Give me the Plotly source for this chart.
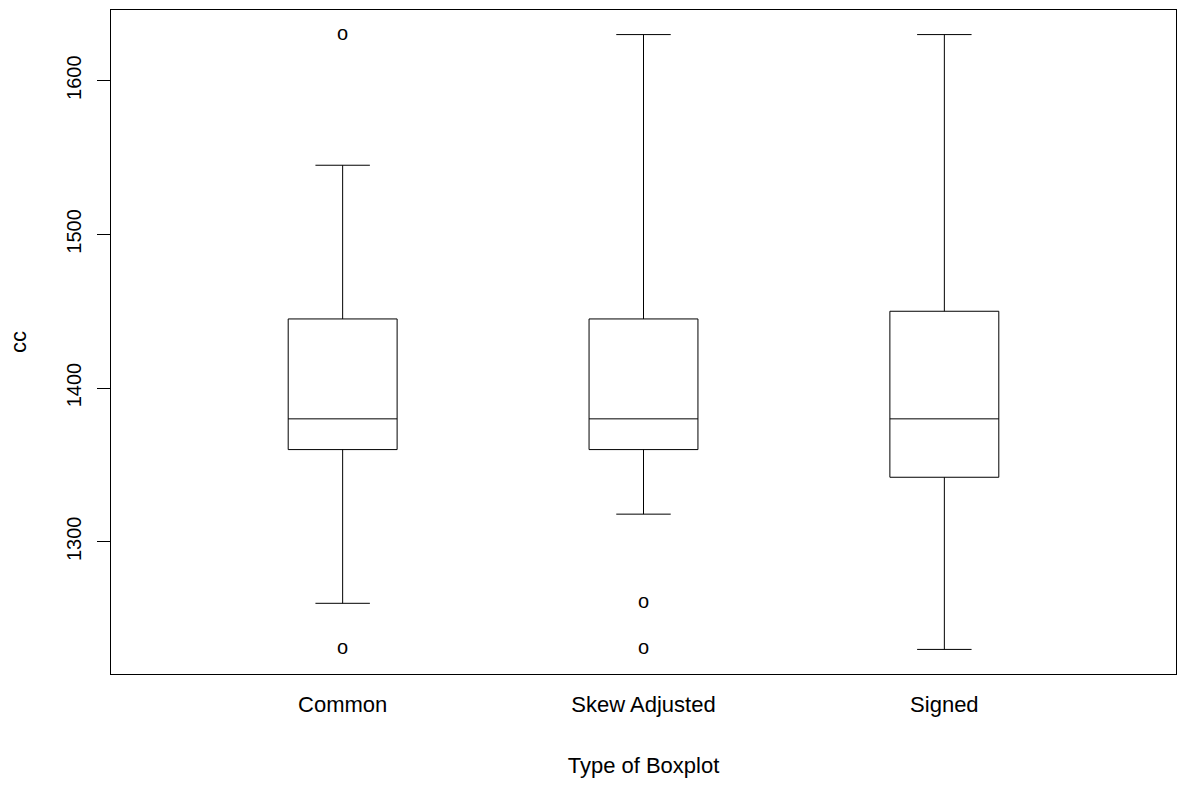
import plotly.graph_objects as go

categories = ["Common", "Skew Adjusted", "Signed"]
positions = [0, 1, 2]
q1 = [1360, 1360, 1342]
median = [1380, 1380, 1380]
q3 = [1445, 1445, 1450]
lower_whisker = [1260, 1318, 1230]
upper_whisker = [1545, 1630, 1630]
outlier_x = [0, 0, 1, 1]
outlier_y = [1630, 1230, 1260, 1230]
y_ticks = [1300, 1400, 1500, 1600]

FONT = "Liberation Sans, Arial, sans-serif"

fig = go.Figure()
for i, cat in enumerate(categories):
    fig.add_trace(go.Box(
        x=[positions[i]], q1=[q1[i]], median=[median[i]], q3=[q3[i]],
        lowerfence=[lower_whisker[i]], upperfence=[upper_whisker[i]],
        width=0.362, whiskerwidth=0.5,
        line=dict(color="black", width=1), fillcolor="white",
        boxpoints=False, name=cat, showlegend=False, hoverinfo="skip",
    ))

fig.add_trace(go.Scatter(
    x=outlier_x, y=outlier_y, mode="text", text=["o"] * len(outlier_y),
    textposition="middle center",
    textfont=dict(family=FONT, size=20, color="black"),
    showlegend=False, hoverinfo="skip",
))

fig.update_layout(
    width=1178, height=787,
    margin=dict(l=111, r=2, t=10, b=113),
    plot_bgcolor="white", paper_bgcolor="white",
    font=dict(family=FONT, size=22, color="black"),
    showlegend=False,
)
fig.update_xaxes(
    range=[-0.77, 2.77], tickmode="array", tickvals=positions, ticktext=categories,
    tickfont=dict(size=22),
    showgrid=False, zeroline=False, showline=True, linecolor="black", linewidth=1,
    mirror=True, ticks="", ticklabelstandoff=11,
    title=dict(text="Type of Boxplot", standoff=41, font=dict(size=22)),
)
fig.update_yaxes(
    range=[1214, 1646], tickmode="array", tickvals=y_ticks,
    tickfont=dict(size=20),
    showgrid=False, zeroline=False, showline=True, linecolor="black", linewidth=1,
    mirror=True, ticks="outside", ticklen=13, tickcolor="black", tickangle=-90,
    ticklabelstandoff=8,
    title=dict(text="cc", standoff=30, font=dict(size=22)),
)

fig.write_html(
    "out.html",
    config={"displayModeBar": False},
    post_script="document.body.style.margin='0';document.body.style.overflow='hidden';",
)
